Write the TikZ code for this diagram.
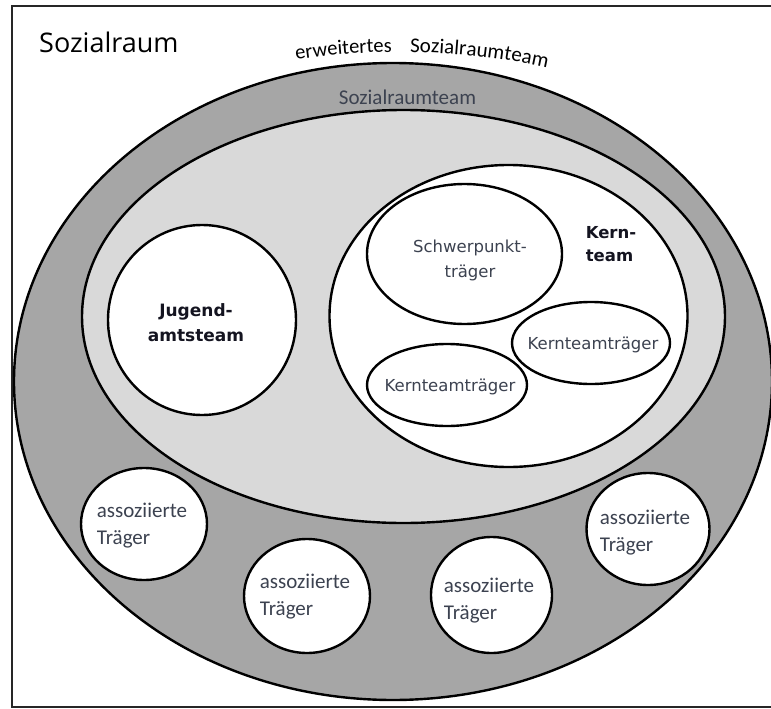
\documentclass[tikz,border=0pt]{standalone}
\usepackage{fontspec}
\usetikzlibrary{shapes.geometric,decorations.text}
\newfontfamily\carl{Carlito}
\newfontfamily\dvs{DejaVu Sans}
\newfontfamily\osans{Open Sans}
\definecolor{darkband}{HTML}{A6A6A6}
\definecolor{lightband}{HTML}{D9D9D9}
\definecolor{txt}{HTML}{3C4250}
\definecolor{boldtxt}{HTML}{141420}
\begin{document}
\begin{tikzpicture}[x=1pt,y=-1pt,
  ring/.style={ellipse, draw=black, line width=2.4pt, inner sep=0pt},
  assoc/.style={ring, fill=white, minimum width=124pt, minimum height=113pt},
  assoctext/.style={font=\carl\fontsize{21}{27}\selectfont, text=txt, align=left, inner sep=0pt},
  kttext/.style={font=\dvs\fontsize{16.5}{25}\selectfont, text=txt, align=center, inner sep=0pt},
  boldlabel/.style={font=\dvs\bfseries\fontsize{16.5}{23}\selectfont, text=boldtxt, inner sep=0pt}]
\useasboundingbox (0,0) rectangle (771,709);
\fill[white] (0,0) rectangle (771,709);
\draw[line width=2pt, color=black!85] (800,6) -- (12,6) -- (12,707) -- (800,707);

% main rings
\node[ring, fill=darkband, minimum width=758pt, minimum height=637pt] (outer) at (393,381.5) {};
\node[ring, fill=lightband, minimum width=643pt, minimum height=413pt] (middle) at (403.5,316.5) {};
\node[ring, fill=white, minimum width=358pt, minimum height=302pt] (kern) at (508.5,316) {};
\node[ring, fill=white, minimum width=188pt, minimum height=190pt] (jugend) at (202,320) {};
\node[ring, fill=white, minimum width=195pt, minimum height=140pt] (schwer) at (464.5,254) {};
\node[ring, fill=white, minimum width=158pt, minimum height=82pt] (ktr) at (591,343) {};
\node[ring, fill=white, minimum width=160pt, minimum height=82pt] (ktl) at (447,385) {};

% associated carriers
\node[assoc, minimum width=126pt, minimum height=112pt] (a1) at (144,524) {};
\node[assoc, minimum width=126pt, minimum height=114pt] (a2) at (307,596) {};
\node[assoc, minimum width=121pt, minimum height=116pt] (a3) at (491.5,595) {};
\node[assoc, minimum width=123pt, minimum height=112pt] (a4) at (648,529) {};

% labels
\node[font=\osans\fontsize{27}{27}\selectfont, anchor=base west, inner sep=0pt] (title) at (39,53) {Sozialraum};
\node[font=\carl\fontsize{21}{21}\selectfont, text=txt, inner sep=0pt] (srt) at (407.5,97) {Sozialraumteam};
\node[boldlabel, align=left] (kernlbl) at (611,244) {Kern-\\team};
\node[boldlabel, align=center, font=\dvs\bfseries\fontsize{17}{25}\selectfont] (juglbl) at (196,322.5) {Jugend-\\amtsteam};
\node[kttext] (schwerlbl) at (470,260.5) {Schwerpunkt-\\träger};
\node[kttext] (ktrlbl) at (593,345) {Kernteamträger};
\node[kttext] (ktllbl) at (450,387) {Kernteamträger};
\node[assoctext] (a1lbl) at (142,526) {assoziierte\\Träger};
\node[assoctext] (a2lbl) at (305,597) {assoziierte\\Träger};
\node[assoctext] (a3lbl) at (489,601) {assoziierte\\Träger};
\node[assoctext] (a4lbl) at (645,533) {assoziierte\\Träger};

% curved heading
\path[decorate, decoration={text along path, text align=left,
  text={|\carl\fontsize{20.5}{20.5}\selectfont|erweitertes}}]
  (400,382) ++(102.5:480pt and 330pt) arc[start angle=102.5, end angle=86, x radius=480pt, y radius=330pt];
\path[decorate, decoration={text along path, text align=left,
  text={|\carl\fontsize{21}{21}\selectfont|Sozialraumteam}}]
  (400,382) ++(88.8:480pt and 330pt) arc[start angle=88.8, end angle=60, x radius=480pt, y radius=330pt];
\end{tikzpicture}
\end{document}
